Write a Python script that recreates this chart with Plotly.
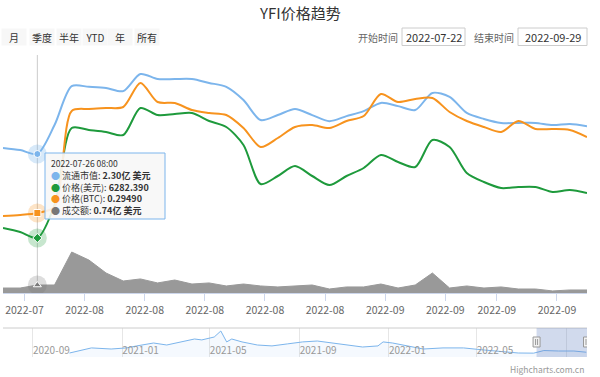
import plotly.graph_objects as go
import pandas as pd

# ---------------- data ----------------
dates = pd.date_range("2022-07-22", periods=35, freq="2D")

market_cap = [2.47, 2.41, 2.30, 3.11, 4.20, 4.18, 4.15, 4.06, 4.54, 4.40,
              4.40, 4.40, 4.29, 4.18, 3.81, 3.25, 3.39, 3.56, 3.39, 3.22,
              3.36, 3.50, 3.73, 3.64, 3.53, 4.01, 3.90, 3.45, 3.28, 3.17,
              3.17, 3.17, 3.11, 3.14, 3.08]          # 亿美元

price_usd = [6755, 6566, 6282.39, 7843, 11485, 11391, 11296, 11154, 12431, 12100,
             12147, 12195, 11816, 11532, 10681, 8836, 9215, 9688, 9215, 8789,
             9215, 9593, 10208, 9877, 9641, 10918, 10586, 9357, 8931, 8647,
             8694, 8694, 8458, 8553, 8411]

price_btc = [0.2898, 0.2915, 0.2949, 0.3051, 0.4683, 0.4717, 0.4734, 0.4751, 0.5159, 0.4836,
             0.4819, 0.4700, 0.4649, 0.4615, 0.4394, 0.4071, 0.4224, 0.4411, 0.4445, 0.4394,
             0.4513, 0.4598, 0.4972, 0.4836, 0.4887, 0.4904, 0.4666, 0.4513, 0.4411, 0.4326,
             0.4513, 0.4377, 0.4377, 0.4360, 0.4241]

volume = [0.46, 0.46, 0.74, 0.74, 3.79, 3.05, 1.85, 1.11, 1.30, 0.93,
          1.20, 0.83, 0.93, 0.65, 0.83, 0.65, 0.56, 0.65, 0.74, 0.37,
          0.56, 0.56, 0.83, 0.46, 0.74, 1.85, 0.46, 0.65, 0.46, 0.56,
          0.37, 0.37, 0.19, 0.28, 0.28]               # 亿美元

nav_dates = ["2020-10-21", "2020-11-20", "2020-12-17", "2021-01-07", "2021-01-21",
             "2021-02-13", "2021-03-03", "2021-03-24", "2021-04-10", "2021-04-20",
             "2021-05-07", "2021-05-16", "2021-05-24", "2021-05-31", "2021-06-14",
             "2021-07-05", "2021-07-25", "2021-08-15", "2021-09-05", "2021-09-25",
             "2021-10-16", "2021-11-06", "2021-11-26", "2021-12-17", "2021-12-24",
             "2022-01-06", "2022-01-20", "2022-02-17", "2022-03-16", "2022-04-13",
             "2022-05-10", "2022-06-07", "2022-06-27", "2022-07-18", "2022-08-01",
             "2022-08-21", "2022-09-11", "2022-09-28"]
nav_cap = [2.6, 5.9, 5.2, 5.9, 7.2, 9.1, 7.8, 9.8, 11.7, 11.1,
           13.0, 16.9, 9.8, 11.7, 9.8, 7.8, 7.2, 8.5, 9.8, 10.4,
           9.1, 7.8, 6.5, 7.2, 9.8, 9.1, 7.8, 5.2, 5.9, 5.9,
           4.6, 3.3, 2.6, 2.5, 4.2, 3.9, 3.9, 3.1]

main_ticks = ["2022-07-24 12:00", "2022-07-31 12:00", "2022-08-07 12:00", "2022-08-14 12:00",
              "2022-08-21 12:00", "2022-08-28 12:00", "2022-09-04 12:00", "2022-09-11 12:00",
              "2022-09-17 12:00", "2022-09-24 12:00"]
main_tick_text = ["2022-07", "2022-08", "2022-08", "2022-08", "2022-08",
                  "2022-08", "2022-09", "2022-09", "2022-09", "2022-09"]

nav_ticks = ["2020-09-01", "2021-01-01", "2021-05-01", "2021-09-01",
             "2022-01-01", "2022-05-01", "2022-09-01"]
nav_tick_text = ["2020-09", "2021-01", "2021-05", "2021-09", "2022-01", "2022-05", "20…"]

buttons = ["月", "季度", "半年", "YTD", "年", "所有"]
start_date = "2022-07-22"
end_date = "2022-09-29"
nav_start = "2020-07-22"
hover_idx = 2

# ---------------- helpers ----------------
W, H = 600, 377
def px(x):
    return x / W
def py(y):
    return 1 - y / H

FONT = "Noto Sans CJK SC, DejaVu Sans, sans-serif"
BLUE = "#7cb5ec"
GREEN = "#1e9a3c"
ORANGE = "#f7931e"
GREY = "#999999"

fig = go.Figure()

# main series (Highcharts order: blue, green, orange, volume)
fig.add_trace(go.Scatter(x=dates, y=market_cap, xaxis="x", yaxis="y", mode="lines",
                         line=dict(color=BLUE, width=2, shape="spline", smoothing=0.8)))
fig.add_trace(go.Scatter(x=dates, y=price_usd, xaxis="x", yaxis="y2", mode="lines",
                         line=dict(color=GREEN, width=2, shape="spline", smoothing=0.8)))
fig.add_trace(go.Scatter(x=dates, y=price_btc, xaxis="x", yaxis="y3", mode="lines",
                         line=dict(color=ORANGE, width=2, shape="spline", smoothing=0.8)))
fig.add_trace(go.Scatter(x=dates, y=volume, xaxis="x", yaxis="y4", mode="lines",
                         line=dict(color=GREY, width=1), fill="tozeroy", fillcolor=GREY))

# hover markers with halos
hx = [dates[hover_idx]]
for yv, ax, col, halo, sym in [
    (market_cap[hover_idx], "y", BLUE, "rgba(124,181,236,0.3)", "circle"),
    (price_usd[hover_idx], "y2", GREEN, "rgba(30,154,60,0.25)", "diamond"),
    (price_btc[hover_idx], "y3", ORANGE, "rgba(247,147,30,0.25)", "square"),
    (volume[hover_idx], "y4", "#7a7a7a", "rgba(120,120,120,0.25)", "triangle-up"),
]:
    fig.add_trace(go.Scatter(x=hx, y=[yv], xaxis="x", yaxis=ax, mode="markers",
                             marker=dict(size=19, color=halo, line=dict(width=0))))
    fig.add_trace(go.Scatter(x=hx, y=[yv], xaxis="x", yaxis=ax, mode="markers",
                             marker=dict(size=7, color=col, symbol=sym,
                                         line=dict(width=1, color="white"))))

# navigator series
fig.add_trace(go.Scatter(x=nav_dates, y=nav_cap, xaxis="x2", yaxis="y5", mode="lines",
                         line=dict(color=BLUE, width=1), fill="tozeroy",
                         fillcolor="rgba(124,181,236,0.08)"))

shapes = []
annotations = []

# crosshair
shapes.append(dict(type="line", xref="x", yref="paper", x0=dates[hover_idx], x1=dates[hover_idx],
                   y0=py(293), y1=py(55), line=dict(color="#cccccc", width=1), layer="below"))

# navigator outline, mask, handles
shapes.append(dict(type="line", xref="paper", yref="paper", x0=px(3), x1=px(587),
                   y0=py(328), y1=py(328), line=dict(color="#cccccc", width=1)))
shapes.append(dict(type="rect", xref="x2", yref="paper", x0=start_date, x1=end_date,
                   y0=py(357), y1=py(328), fillcolor="rgba(102,133,194,0.3)",
                   line=dict(width=0)))
for d in [start_date, end_date]:
    shapes.append(dict(type="rect", xref="x2", yref="paper", xsizemode="pixel", xanchor=d,
                       x0=-3.5, x1=3.5, y0=py(347), y1=py(337), fillcolor="#f2f2f2",
                       line=dict(color="#999999", width=1)))
    for off in (-1, 1):
        shapes.append(dict(type="line", xref="x2", yref="paper", xsizemode="pixel", xanchor=d,
                           x0=off, x1=off, y0=py(345), y1=py(339),
                           line=dict(color="#999999", width=1)))

# tooltip box
shapes.append(dict(type="rect", xref="paper", yref="paper", x0=px(45), x1=px(165),
                   y0=py(219), y1=py(153), fillcolor="rgba(247,247,247,0.9)",
                   line=dict(color=BLUE, width=1)))
annotations.append(dict(text=f"{dates[hover_idx]:%Y-%m-%d} 08:00", xref="paper", yref="paper",
                        x=px(50), y=py(156), xanchor="left", yanchor="top", showarrow=False,
                        borderpad=0, font=dict(size=8.5, color="#333333", family=FONT)))
tip_body = "<br>".join([
    f'<span style="color:{BLUE}">●</span> 流通市值: <b>{market_cap[hover_idx]:.2f}亿 美元</b>',
    f'<span style="color:{GREEN}">●</span> 价格(美元): <b>{price_usd[hover_idx]:.3f}</b>',
    f'<span style="color:{ORANGE}">●</span> 价格(BTC): <b>{price_btc[hover_idx]:.5f}</b>',
    f'<span style="color:#777777">●</span> 成交额: <b>{volume[hover_idx]:.2f}亿 美元</b>',
])
annotations.append(dict(text=tip_body, xref="paper", yref="paper", x=px(50), y=py(168),
                        xanchor="left", yanchor="top", align="left", showarrow=False,
                        borderpad=0, font=dict(size=9, color="#333333", family=FONT)))

# title
annotations.append(dict(text="YFI价格趋势", xref="paper", yref="paper", x=0.5, y=py(12),
                        xanchor="center", yanchor="middle", showarrow=False,
                        font=dict(size=15, color="#333333", family=FONT)))

# range selector buttons
for lab, cx in zip(buttons, [14, 42, 69, 95, 120, 147]):
    annotations.append(dict(text=lab, xref="paper", yref="paper", x=px(cx), y=py(37),
                            xanchor="center", yanchor="middle", showarrow=False,
                            bgcolor="#f7f7f7", width=24, height=16, borderpad=0,
                            font=dict(size=10, color="#333333", family=FONT)))

# date inputs
for lab, lx, box, val in [("开始时间", 378, (402, 465), start_date),
                          ("结束时间", 494, (518, 587), end_date)]:
    annotations.append(dict(text=lab, xref="paper", yref="paper", x=px(lx), y=py(37),
                            xanchor="center", yanchor="middle", showarrow=False,
                            font=dict(size=10, color="#666666", family=FONT)))
    shapes.append(dict(type="rect", xref="paper", yref="paper", x0=px(box[0]), x1=px(box[1]),
                       y0=py(45.5), y1=py(28), line=dict(color="#cccccc", width=1),
                       fillcolor="white"))
    annotations.append(dict(text=val, xref="paper", yref="paper", x=px((box[0] + box[1]) / 2),
                            y=py(37), xanchor="center", yanchor="middle", showarrow=False,
                            font=dict(size=11, color="#333333", family=FONT)))

# credits
annotations.append(dict(text="Highcharts.com.cn", xref="paper", yref="paper", x=px(586), y=py(369),
                        xanchor="right", yanchor="middle", showarrow=False,
                        font=dict(size=8.5, color="#999999", family=FONT)))

main_dom = [py(293), py(50)]
fig.update_layout(
    width=W, height=H, margin=dict(l=0, r=0, t=0, b=0),
    paper_bgcolor="white", plot_bgcolor="rgba(0,0,0,0)",
    showlegend=False, hovermode=False, dragmode=False,
    font=dict(family=FONT),
    xaxis=dict(domain=[px(3), px(587)], range=[dates[0], dates[-1]], anchor="y",
               showline=True, linecolor="#ccd6eb", linewidth=1, ticks="outside",
               ticklen=7, tickcolor="#ccd6eb", tickvals=main_ticks, ticktext=main_tick_text,
               tickfont=dict(size=10.5, color="#666666", family=FONT),
               showgrid=False, zeroline=False, fixedrange=True),
    yaxis=dict(domain=main_dom, range=[-1.592, 5.212], visible=False, fixedrange=True),
    yaxis2=dict(domain=main_dom, range=[3680.9, 15174.8], overlaying="y", visible=False),
    yaxis3=dict(domain=main_dom, range=[0.1589, 0.572], overlaying="y", visible=False),
    yaxis4=dict(domain=main_dom, range=[0, 22.48], overlaying="y", visible=False),
    xaxis2=dict(domain=[px(3), px(587)], range=[nav_start, end_date], anchor="y5",
                tickvals=nav_ticks, ticktext=nav_tick_text, ticklabelposition="inside right",
                ticklabelstandoff=-5,
                ticks="", showgrid=True, gridcolor="#e6e6e6", showline=False, zeroline=False,
                tickfont=dict(size=10, color="#999999", family=FONT), fixedrange=True),
    yaxis5=dict(domain=[py(357), py(328)], range=[0, 18.85], visible=False, fixedrange=True),
    shapes=shapes, annotations=annotations,
)

fig.write_html("out.html", config={"displayModeBar": False},
               post_script="document.body.style.margin='0';document.body.style.overflow='hidden';")
